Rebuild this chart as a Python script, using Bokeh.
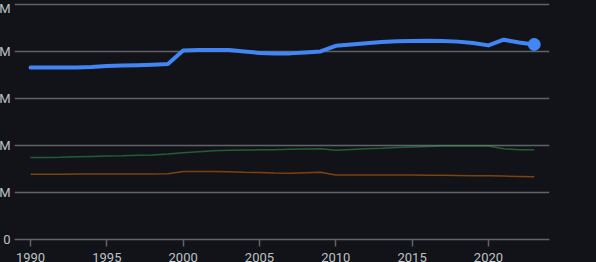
from bokeh.plotting import figure
from bokeh.embed import file_html
from bokeh.resources import INLINE
from bokeh.models import Range1d, FixedTicker

years = list(range(1990, 2024))
blue = [36.6, 36.6, 36.6, 36.6, 36.7, 36.9, 37.0, 37.1, 37.2, 37.35,
        40.2, 40.3, 40.3, 40.3, 40.0, 39.7, 39.55, 39.6, 39.8, 40.0,
        41.2, 41.5, 41.75, 42.0, 42.2, 42.25, 42.3, 42.25, 42.1, 41.8,
        41.3, 42.5, 41.9, 41.5]
green = [17.44, 17.46, 17.5, 17.6, 17.68, 17.74, 17.8, 17.9, 18.0, 18.17,
         18.44, 18.66, 18.87, 18.97, 19.03, 19.08, 19.12, 19.18, 19.24, 19.3,
         19.0, 19.15, 19.3, 19.44, 19.6, 19.7, 19.8, 19.9, 19.9, 19.9,
         19.9, 19.3, 19.1, 19.1]
orange = [13.9, 13.9, 13.9, 13.92, 13.93, 13.95, 13.95, 13.96, 13.96, 13.97,
          14.46, 14.46, 14.46, 14.4, 14.32, 14.25, 14.15, 14.1, 14.2, 14.3,
          13.7, 13.7, 13.7, 13.7, 13.7, 13.7, 13.68, 13.66, 13.62, 13.58,
          13.54, 13.5, 13.42, 13.33]
y_ticks = [0, 10, 20, 30, 40, 50]
y_labels = {0: "0", 10: "10M", 20: "20M", 30: "30M", 40: "40M", 50: "50M"}
x_ticks = [1990, 1995, 2000, 2005, 2010, 2015, 2020]

BG = "#121318"
TXT = "#bdc1c6"
GRID = "#5f6368"

p = figure(width=615, height=264, output_backend="svg", toolbar_location=None,
           x_range=Range1d(1988.95, 2024.0), y_range=Range1d(0, 50.85),
           min_border_left=0, min_border_right=47, min_border_top=0, min_border_bottom=0)
p.styles = {"margin-left": "-19px", "margin-bottom": "-2px", "background-color": BG}
p.background_fill_color = BG
p.border_fill_color = BG
p.outline_line_color = None

p.xgrid.grid_line_color = None
p.ygrid.grid_line_color = GRID
p.ygrid.grid_line_width = 1.5
p.ygrid.ticker = FixedTicker(ticks=y_ticks)

p.yaxis.ticker = FixedTicker(ticks=y_ticks)
p.yaxis.major_label_overrides = y_labels
p.yaxis.axis_line_color = None
p.yaxis.major_tick_line_color = None
p.yaxis.minor_tick_line_color = None
p.yaxis.major_tick_out = 0
p.yaxis.major_tick_in = 0
p.yaxis.major_label_text_color = TXT
p.yaxis.major_label_text_font = "Roboto"
p.yaxis.major_label_text_font_size = "13px"
p.yaxis.major_label_standoff = 4

p.xaxis.ticker = FixedTicker(ticks=x_ticks)
p.xaxis.axis_line_color = GRID
p.xaxis.axis_line_width = 1.5
p.xaxis.major_tick_line_color = GRID
p.xaxis.major_tick_line_width = 1.5
p.xaxis.major_tick_out = 7
p.xaxis.major_tick_in = 0
p.xaxis.minor_tick_line_color = None
p.xaxis.major_label_text_color = TXT
p.xaxis.major_label_text_font = "Roboto"
p.xaxis.major_label_text_font_size = "13px"
p.xaxis.major_label_standoff = 6

p.line(years, orange, line_color="#e8710a", line_alpha=0.5, line_width=1.5)
p.line(years, green, line_color="#34a853", line_alpha=0.5, line_width=1.5)
p.line(years, blue, line_color="#4285f4", line_width=4, line_join="round", line_cap="round")
p.scatter([years[-1]], [blue[-1]], size=12, color="#4285f4")

open("out.html", "w").write(file_html(p, INLINE))
